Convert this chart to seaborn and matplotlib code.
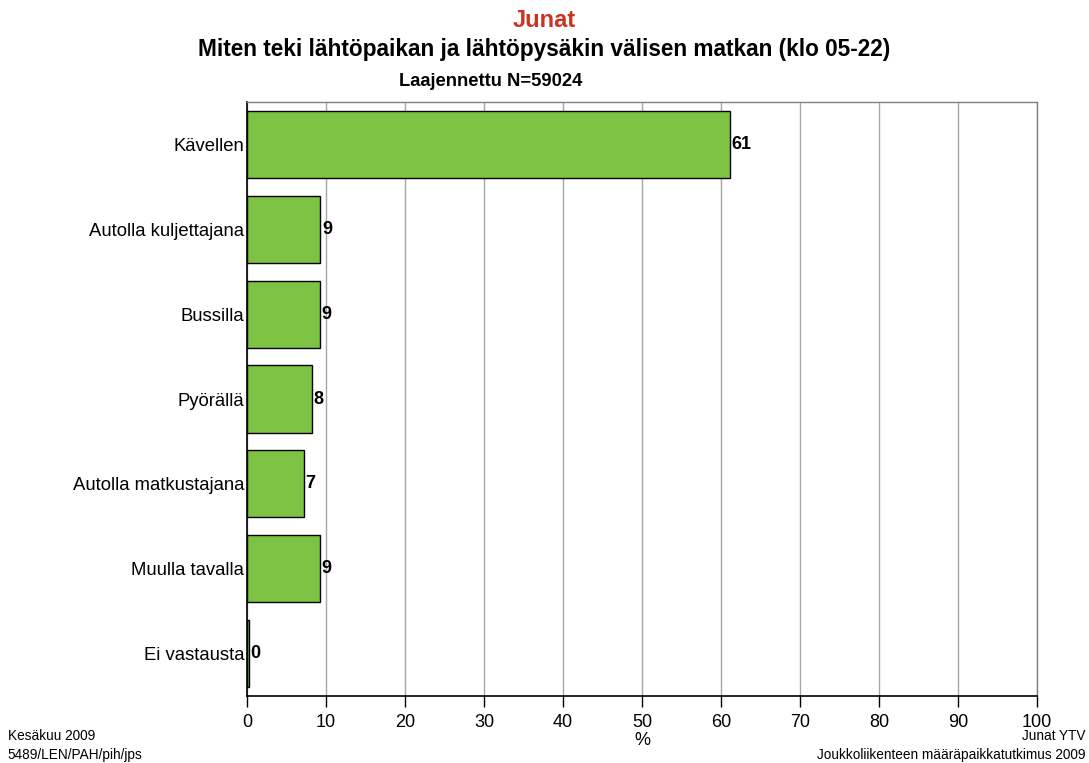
import matplotlib
matplotlib.use("Agg")
import matplotlib.pyplot as plt
import seaborn as sns
import pandas as pd

# Data
categories = ["Kävellen", "Autolla kuljettajana", "Bussilla", "Pyörällä",
              "Autolla matkustajana", "Muulla tavalla", "Ei vastausta"]
values = [61.1, 9.3, 9.2, 8.2, 7.2, 9.2, 0.2]
labels = ["61", "9", "9", "8", "7", "9", "0"]
xticks = [0, 10, 20, 30, 40, 50, 60, 70, 80, 90, 100]

df = pd.DataFrame({"cat": categories, "val": values})

sns.set_theme(style="white")
plt.rcParams["font.family"] = ["Liberation Sans", "DejaVu Sans"]
plt.rcParams["text.color"] = "black"
plt.rcParams["xtick.color"] = "black"
plt.rcParams["ytick.color"] = "black"
plt.rcParams["axes.labelcolor"] = "black"

fig = plt.figure(figsize=(10.89, 7.63), dpi=100)
ax = fig.add_axes([0.2268, 0.0878, 0.7254, 0.7785])

sns.barplot(data=df, x="val", y="cat", orient="h", color="#7DC242",
            saturation=1, width=0.79, edgecolor="black", linewidth=1, ax=ax)

for i, (v, lab) in enumerate(zip(values, labels)):
    ax.text(v + 0.2, i, lab, va="center", ha="left", fontsize=13,
            fontweight="bold", color="black")

ax.set_xlim(0, 100)
ax.set_xticks(xticks)
ax.set_xticklabels([str(t) for t in xticks], fontsize=13)
ax.set_xlabel("%", fontsize=13, labelpad=1)
ax.set_ylabel("")
ax.tick_params(axis="y", labelsize=13.3, length=0, pad=2)
ax.tick_params(axis="x", length=8, width=1, color="black", direction="out",
               bottom=True, pad=5)
ax.xaxis.grid(True, color="#A6A6A6", linewidth=1)
ax.set_axisbelow(True)
for s in ["top", "right"]:
    ax.spines[s].set_color("#808080")
    ax.spines[s].set_linewidth(1)
for s in ["left", "bottom"]:
    ax.spines[s].set_color("black")
    ax.spines[s].set_linewidth(1.2)

fig.text(0.5, 0.973, "Junat", ha="center", va="center", fontsize=17,
         fontweight="bold", color="#CC3322")
fig.text(0.5, 0.935, "Miten teki lähtöpaikan ja lähtöpysäkin välisen matkan (klo 05-22)",
         ha="center", va="center", fontsize=16.3, fontweight="bold")
fig.text(0.451, 0.893, "Laajennettu N=59024", ha="center", va="center",
         fontsize=13.2, fontweight="bold")

fig.text(0.007, 0.035, "Kesäkuu 2009", ha="left", va="center", fontsize=9.8)
fig.text(0.007, 0.011, "5489/LEN/PAH/pih/jps", ha="left", va="center", fontsize=9.8)
fig.text(0.997, 0.035, "Junat YTV", ha="right", va="center", fontsize=9.8)
fig.text(0.997, 0.011, "Joukkoliikenteen määräpaikkatutkimus 2009", ha="right",
         va="center", fontsize=9.8)

fig.savefig("out.png", dpi=100)
